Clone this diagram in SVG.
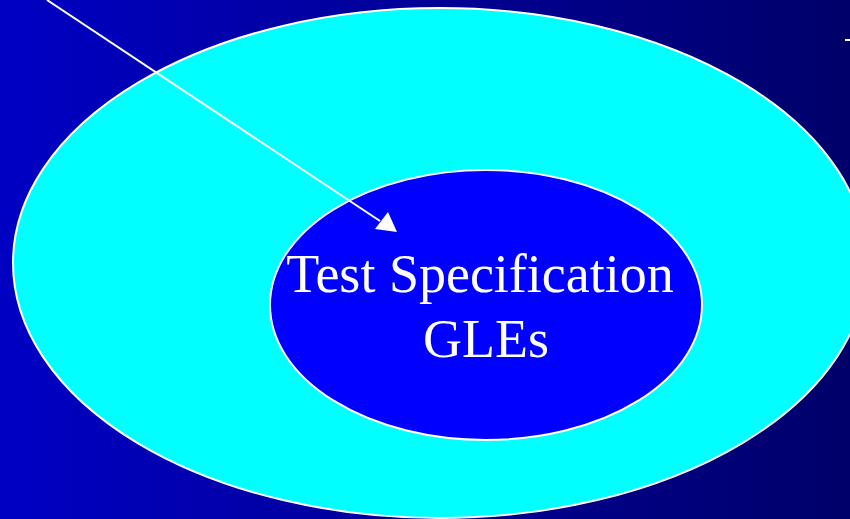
<svg xmlns="http://www.w3.org/2000/svg" width="850" height="519" viewBox="0 0 850 519">
<defs>
<linearGradient id="bg" x1="0" y1="0" x2="1" y2="0">
<stop offset="0" stop-color="#0000C4"/>
<stop offset="1" stop-color="#00006A"/>
</linearGradient>
<style>
.lbl{font-family:"Liberation Serif","Times New Roman",serif;font-size:54px;fill:#FFFFFF;text-anchor:middle}
</style>
</defs>
<rect width="850" height="519" fill="url(#bg)"/>
<g id="outer">
<ellipse cx="440" cy="263" rx="427" ry="255" fill="#00FFFF" stroke="#FFFFFF" stroke-width="2"/>
</g>
<g id="inner">
<ellipse cx="486" cy="305" rx="216" ry="135" fill="#0000FF" stroke="#FFFFFF" stroke-width="2"/>
<text class="lbl" x="480" y="292">Test Specification</text>
<text class="lbl" x="486" y="357">GLEs</text>
</g>
<g id="connectors">
<line x1="47" y1="0" x2="380" y2="221" stroke="#FFFFFF" stroke-width="2"/>
<path d="M397,232 L375,229 L388,212 Z" fill="#FFFFFF"/>
<line x1="845" y1="40" x2="850" y2="40" stroke="#FFFFFF" stroke-width="2"/>
</g>
</svg>
